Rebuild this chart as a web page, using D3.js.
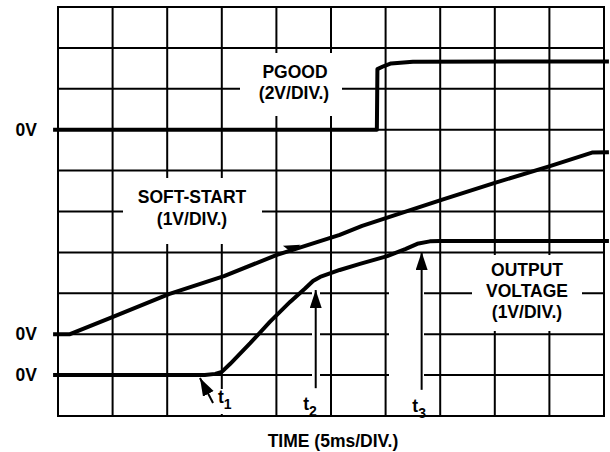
<!DOCTYPE html>
<html>
<head>
<meta charset="utf-8">
<script src="https://cdn.jsdelivr.net/npm/d3@7"></script>
<style>
  body { margin: 0; background: #fff; }
  text { font-family: "Liberation Sans", Arial, Helvetica, sans-serif; font-weight: bold; fill: #000; }
</style>
</head>
<body>
<script>
// time in ms (5ms/div), amplitude in screen divisions
var gridTimes = d3.range(0, 51, 5);
var gridDivs = d3.range(0, 11);

var pgood = [[-0.45, 7.0], [29.2, 7.0], [29.25, 8.48], [29.8, 8.55], [30.5, 8.62], [32.5, 8.66], [50.45, 8.67]];
var softStart = [[-0.45, 2.0], [1.1, 2.0], [5.2, 2.44], [10.15, 2.98], [15.2, 3.42], [20.05, 3.94], [25.8, 4.43],
  [27.85, 4.65], [35.05, 5.28], [40, 5.70], [45.05, 6.11], [48.9, 6.44], [50.45, 6.45]];
var outputVoltage = [[-0.45, 1.0], [13.45, 1.0], [14.4, 1.03], [15.0, 1.08], [15.75, 1.27], [17.6, 1.78], [19.4, 2.3],
  [21.25, 2.79], [22.6, 3.11], [23.35, 3.3], [24.0, 3.4], [25.8, 3.57], [27.65, 3.72], [30.15, 3.91], [31.8, 4.08],
  [32.9, 4.21], [34.05, 4.27], [35.0, 4.28], [50.45, 4.28]];

// arrows: [tail, tip]
var arrows = [
  {name: "1", tail: [14.2, 0.32], tip: [13.0, 0.93]},
  {name: "2", tail: [23.6, 0.68], tip: [23.6, 3.08]},
  {name: "3", tail: [33.3, 0.64], tip: [33.3, 4.01]}
];
var zeroLabels = [7, 2, 1];

var svg = d3.select("body").append("svg").attr("width", 610).attr("height", 452);
var x = d3.scaleLinear().domain([0, 50]).range([58, 604]);
var y = d3.scaleLinear().domain([0, 10]).range([416, 7]);

var g = svg.append("g");
// grid
g.selectAll(".vline").data(gridTimes).enter().append("line")
  .attr("x1", function(d) { return x(d); }).attr("x2", function(d) { return x(d); })
  .attr("y1", y(0)).attr("y2", y(10))
  .attr("stroke", "#000").attr("stroke-width", 2);
g.selectAll(".hline").data(gridDivs).enter().append("line")
  .attr("y1", function(d) { return y(d); }).attr("y2", function(d) { return y(d); })
  .attr("x1", x(0) - 1).attr("x2", x(50) + 1)
  .attr("stroke", "#000").attr("stroke-width", 2);

// white boxes behind the labels
var boxes = [[240, 53, 102, 63], [123, 178, 139, 66], [472, 255, 110, 76], [214, 389, 20, 25],
  [312, 292, 8, 96], [389, 270, 35, 122]];
g.selectAll(".box").data(boxes).enter().append("rect")
  .attr("x", function(d) { return d[0]; }).attr("y", function(d) { return d[1]; })
  .attr("width", function(d) { return d[2]; }).attr("height", function(d) { return d[3]; })
  .attr("fill", "#fff");

// traces
var line = d3.line()
  .x(function(d) { return x(d[0]); })
  .y(function(d) { return y(d[1]); });
[pgood, softStart, outputVoltage].forEach(function(data) {
  g.append("path")
    .datum(data)
    .attr("fill", "none")
    .attr("stroke", "#000")
    .attr("stroke-linejoin", "round")
    .attr("stroke-width", 4)
    .attr("d", line);
});

// little arrow tip on the soft-start trace
var tick = [[20.6, 4.16], [22.2, 4.19], [21.4, 4.0]];
g.append("path")
  .attr("d", "M" + tick.map(function(d) { return x(d[0]) + "," + y(d[1]); }).join("L") + "Z")
  .attr("fill", "#000");

// arrows
svg.append("defs").append("marker")
  .attr("id", "head")
  .attr("markerUnits", "userSpaceOnUse")
  .attr("markerWidth", 20).attr("markerHeight", 14)
  .attr("refX", 18).attr("refY", 6)
  .attr("orient", "auto")
  .append("path")
  .attr("d", "M0,0L18,6L0,12Z")
  .attr("fill", "#000");
g.selectAll(".arrow").data(arrows).enter().append("line")
  .attr("x1", function(d) { return x(d.tail[0]); }).attr("y1", function(d) { return y(d.tail[1]); })
  .attr("x2", function(d) { return x(d.tip[0]); }).attr("y2", function(d) { return y(d.tip[1]); })
  .attr("stroke", "#000").attr("stroke-width", 2)
  .attr("marker-end", "url(#head)");

// t labels
var tLabels = [[14.65, 0.32], [22.45, 0.14], [32.45, 0.1]];
tLabels.forEach(function(p, i) {
  var t = g.append("text")
    .attr("x", x(p[0])).attr("y", y(p[1]))
    .attr("font-size", 17.5)
    .text("t");
  t.append("tspan").attr("dy", 6).attr("font-size", 14).text(arrows[i].name);
});

// 0V labels
g.selectAll(".zero").data(zeroLabels).enter().append("text")
  .attr("x", 37).attr("y", function(d) { return y(d) + 6; })
  .attr("text-anchor", "end")
  .attr("font-size", 17.5)
  .text("0V");

var labels = [
  ["PGOOD", 295, 78], ["(2V/DIV.)", 294, 99],
  ["SOFT-START", 192, 203], ["(1V/DIV.)", 192, 225],
  ["OUTPUT", 527, 276], ["VOLTAGE", 527, 297], ["(1V/DIV.)", 527, 318],
  ["TIME (5ms/DIV.)", 333, 447]
];
g.selectAll(".label").data(labels).enter().append("text")
  .attr("x", function(d) { return d[1]; }).attr("y", function(d) { return d[2]; })
  .attr("text-anchor", "middle")
  .attr("font-size", 17.5)
  .text(function(d) { return d[0]; });
</script>
</body>
</html>
